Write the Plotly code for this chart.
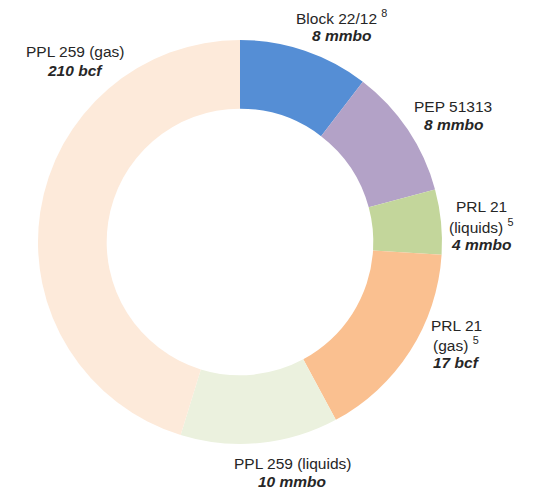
import plotly.graph_objects as go

names = ["Block 22/12", "PEP 51313", "PRL 21<br>(liquids)", "PRL 21<br>(gas)", "PPL 259 (liquids)", "PPL 259 (gas)"]
notes = ["8", "", "5", "5", "", ""]
volumes = ["8 mmbo", "8 mmbo", "4 mmbo", "17 bcf", "10 mmbo", "210 bcf"]
shares = [8, 8, 4, 12.4, 9.7, 34.8]
colors = ["#558ED5", "#B3A2C7", "#C3D69B", "#FAC090", "#EBF1DE", "#FDEADA"]

W, H = 535, 490
CX, CY, R = 240, 242, 202
# centre (px) of first text line for each slice's label
label_pos = [(341, 17), (453, 106), (481, 207), (456, 325), (292, 463), (75, 52)]
LINE = 18.5

fig = go.Figure(go.Pie(
    labels=[n.replace("<br>", " ") for n in names],
    values=shares,
    marker=dict(colors=colors, line=dict(width=0)),
    hole=0.66,
    sort=False,
    direction="clockwise",
    rotation=0,
    textinfo="none",
    hoverinfo="label+value",
    domain=dict(x=[(CX - R) / W, (CX + R) / W], y=[(H - CY - R) / H, (H - CY + R) / H]),
))

annotations = []
font = dict(family="Liberation Sans, Arial", size=15.5, color="#262626")
for n, s, v, (px, py) in zip(names, notes, volumes, label_pos):
    lines = n.split("<br>")
    if s:
        lines[-1] = lines[-1] + f" <sup>{s}</sup>"
    lines.append(f"<b><i>{v}</i></b>")
    for i, t in enumerate(lines):
        annotations.append(dict(
            x=px / W, y=1 - (py + i * LINE) / H, xref="paper", yref="paper",
            text=t, showarrow=False, align="center",
            xanchor="center", yanchor="middle", font=font,
        ))

fig.update_layout(
    width=W, height=H,
    margin=dict(l=0, r=0, t=0, b=0),
    showlegend=False,
    paper_bgcolor="white",
    plot_bgcolor="white",
    annotations=annotations,
)

fig.write_html("out.html", config={"displayModeBar": False},
               post_script="document.body.style.margin='0';document.body.style.padding='0';")
